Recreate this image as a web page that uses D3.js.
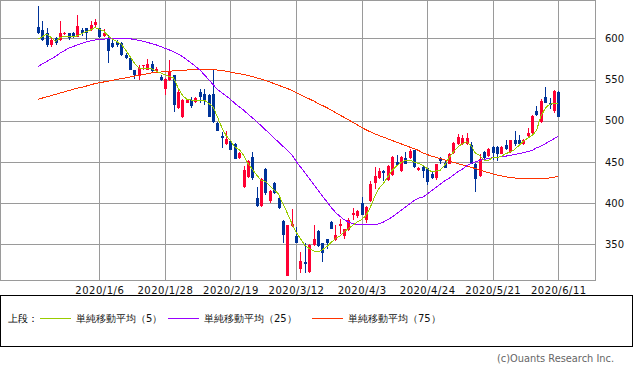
<!DOCTYPE html>
<html>
<head>
<meta charset="utf-8">
<script src="https://cdnjs.cloudflare.com/ajax/libs/d3/7.8.5/d3.min.js"></script>
<style>
  body { margin: 0; background: #fff; }
  svg { display: block; }
  .grid line { stroke: #9a9a9a; shape-rendering: crispEdges; }
  .candle { shape-rendering: crispEdges; }
  .ma { fill: none; stroke-width: 1; shape-rendering: crispEdges; }
  text { font-family: "DejaVu Sans", sans-serif; }
</style>
</head>
<body>
<svg width="633" height="377"></svg>
<script>
// trading days shown (2019/12/11 - 2020/6/11)
var dates = [
  "2019/12/11","2019/12/12","2019/12/13","2019/12/16","2019/12/17","2019/12/18","2019/12/19","2019/12/20",
  "2019/12/23","2019/12/24","2019/12/25","2019/12/26","2019/12/27","2019/12/30",
  "2020/1/6","2020/1/7","2020/1/8","2020/1/9","2020/1/10","2020/1/14","2020/1/15","2020/1/16","2020/1/17",
  "2020/1/20","2020/1/21","2020/1/22","2020/1/23","2020/1/24","2020/1/27","2020/1/28","2020/1/29","2020/1/30","2020/1/31",
  "2020/2/3","2020/2/4","2020/2/5","2020/2/6","2020/2/7","2020/2/10","2020/2/12","2020/2/13","2020/2/14",
  "2020/2/17","2020/2/18","2020/2/19","2020/2/20","2020/2/21","2020/2/25","2020/2/26","2020/2/27","2020/2/28",
  "2020/3/2","2020/3/3","2020/3/4","2020/3/5","2020/3/6","2020/3/9","2020/3/10","2020/3/11","2020/3/12","2020/3/13",
  "2020/3/16","2020/3/17","2020/3/18","2020/3/19","2020/3/23","2020/3/24","2020/3/25","2020/3/26","2020/3/27","2020/3/30","2020/3/31",
  "2020/4/1","2020/4/2","2020/4/3","2020/4/6","2020/4/7","2020/4/8","2020/4/9","2020/4/10","2020/4/13","2020/4/14",
  "2020/4/15","2020/4/16","2020/4/17","2020/4/20","2020/4/21","2020/4/22","2020/4/23","2020/4/24","2020/4/27","2020/4/28","2020/4/30",
  "2020/5/1","2020/5/7","2020/5/8","2020/5/11","2020/5/12","2020/5/13","2020/5/14","2020/5/15","2020/5/18","2020/5/19",
  "2020/5/20","2020/5/21","2020/5/22","2020/5/25","2020/5/26","2020/5/27","2020/5/28","2020/5/29",
  "2020/6/1","2020/6/2","2020/6/3","2020/6/4","2020/6/5","2020/6/8","2020/6/9","2020/6/10","2020/6/11"
];

var opens = [
  614,610,606,592,600,598,605,606,607,601,610,612,610,616,
  612,603,600,594,596,594,580,576,561,555,566,562,569,560,553,539,549,555,515,
  504,522,525,523,535,533,531,533,497,481,472,475,472,455,419,432,456,406,
  397,441,402,425,406,378,312,372,360,320,329,316,349,366,351,356,377,355,372,360,367,
  386,384,400,380,402,424,430,439,428,434,450,439,455,455,464,440,444,442,435,430,455,
  449,448,461,472,472,472,470,448,433,462,457,468,468,460,470,462,476,476,
  472,481,485,512,498,529,522,512,535
];
var highs = [
  639,621,612,600,602,621,608,607,608,628,612,613,621,624,
  613,611,604,598,598,595,582,578,562,568,568,575,572,565,555,552,574,556,537,
  526,526,529,529,539,539,532,562,498,486,488,477,473,462,445,452,462,420,
  430,443,416,426,407,379,374,393,371,341,351,350,374,367,352,357,378,373,381,369,382,
  394,392,407,396,427,444,443,440,446,457,458,457,462,466,465,444,445,443,438,448,456,
  452,461,474,484,483,485,474,449,460,463,467,469,469,469,476,477,488,483,
  478,491,507,518,526,541,527,537,536
];
var lows = [
  605,597,590,589,592,597,604,598,600,601,603,598,609,614,
  600,601,570,588,590,579,575,561,551,549,562,561,559,559,548,531,548,511,514,
  503,521,516,522,521,519,504,497,487,467,471,464,453,454,418,431,428,395,
  395,410,400,411,393,351,311,371,351,315,315,315,348,347,328,344,368,354,363,356,366,
  380,382,385,376,401,417,429,427,427,433,445,438,447,454,443,439,431,422,429,428,448,
  442,447,460,471,471,471,447,414,432,451,456,452,451,459,465,461,469,470,
  471,480,484,506,497,521,514,509,504
];
var closes = [
  607,598,592,598,594,607,607,600,601,615,606,606,616,620,
  602,606,584,589,592,580,576,562,555,564,568,569,560,563,549,551,559,519,535,
  525,525,518,528,529,525,505,498,488,479,478,465,454,461,440,451,430,397,
  429,412,415,412,394,361,373,375,352,330,326,349,356,348,340,352,369,361,375,368,379,
  388,391,386,395,423,433,439,436,445,456,446,456,448,463,444,443,439,426,430,447,451,
  443,460,473,480,479,479,448,429,454,455,466,461,460,468,466,476,472,472,
  476,485,506,507,524,522,519,536,505
];

var ma5 = [
  599,602,605,601,596,601,602,602,602,603,606,608,610,613,
  611,609,603,599,596,593,586,578,570,564,563.5,563.5,563,560,558,556,553.5,552,540,
  531,526,525,525,525,525,521,517,505,492,482,476,468,465,458,448,441,434,
  428,426,421,416,411,399,388,376,365,357,349,345,342,341,343,347,352,357,360,365,369,
  373,377,380,385,395,408,418,424,432,440,445,449,452,452,450,448,446,442,438,439,440,
  446,455,462,468,472,474.5,470,461,458,452,452,455,455,457,460,462,465,470,
  475,479,482,488,505,515,520,521,521
];
var ma25 = [
  565.6,569,572,575,578,582,585,588,590,592,594,595.5,597,598,
  599,599,599.5,599.5,600,600,600,599.5,598.5,597.5,596.5,595,593.5,592,590,588,586,583.5,581,
  578,574,570,566,561.5,556,550,544,538,534,530,526,521,517,513,508,503.5,499,
  494,489,484,479,474,469,464,459,451,444,437,430,423,416,409,402,395,389,384,380,377,
  375,374,373.5,373.5,373.5,373.5,375,377,380,383,387,391,395,399,403,406,407,411,415,419,423,
  427,430,434,438,441,445,448,450,452,453,454,455,455.5,456.5,457,458,459,460,
  461,462.5,464,467,469,472,475,478,481
];
var ma75 = [
  526,527.5,529,530.5,532,533.5,535,536.5,538,539.5,540.5,542,543.5,545,
  546,547,548,549,550,551,552,553,554,555,556,557,558,558.5,559,559.5,560,560.5,561,
  561.5,561.5,562,562,562,562,562,562,561.5,561,560,559,558,557,556,555,553.5,552,
  550.5,549,547,545,543,541,539,537,534,531.5,529,526.5,524,521,518.5,516,513,510,507,504,501,
  498,495,492,489,486.5,484,482,480,478,476,474,472,470,468,466,464,461,459,457,455.5,454,
  452.5,451,449.5,448,446.5,445,443.5,442,440,438.5,437,435.5,434,433,432,431,430.5,430,
  430,429.5,429.5,429.5,429.5,430,430.5,431.5,432.5
];

var tickLabels = ["2020/1/6","2020/1/28","2020/2/19","2020/3/12","2020/4/3","2020/4/24","2020/5/21","2020/6/11"];
var priceTicks = [350, 400, 450, 500, 550, 600];
var legendNames = ["単純移動平均（5）", "単純移動平均（25）", "単純移動平均（75）"];

var UP = "#ff0033", DOWN = "#003399";
var maColors = ["#99cc00", "#9900ff", "#ff3300"];

var svg = d3.select("svg");
var plotW = 595, plotH = 280;

var x = d3.scalePoint()
    .domain(dates)
    .range([38.1, 558.3]);
var y = d3.scaleLinear()
    .domain([350, 600])
    .range([244.3, 38.3]);

// grid
var grid = svg.append("g").attr("class", "grid");
grid.selectAll(".v").data(tickLabels).enter().append("line")
    .attr("x1", function(d) { return Math.round(x(d)) + 0.5; })
    .attr("x2", function(d) { return Math.round(x(d)) + 0.5; })
    .attr("y1", 0).attr("y2", plotH);
grid.selectAll(".h").data(priceTicks).enter().append("line")
    .attr("x1", 0).attr("x2", plotW)
    .attr("y1", function(d) { return Math.round(y(d)) + 0.5; })
    .attr("y2", function(d) { return Math.round(y(d)) + 0.5; });
svg.append("rect")
    .attr("x", 0.5).attr("y", 0.5)
    .attr("width", plotW).attr("height", plotH)
    .attr("fill", "none").attr("stroke", "#9a9a9a")
    .style("shape-rendering", "crispEdges");

// candles
var idx = d3.range(dates.length);
var candles = svg.append("g").selectAll("g").data(idx).enter().append("g")
    .attr("class", "candle")
    .attr("fill", function(i) { return closes[i] >= opens[i] ? UP : DOWN; })
    .attr("stroke", function(i) { return closes[i] >= opens[i] ? UP : DOWN; });

candles.append("line")
    .attr("x1", function(i) { return Math.round(x(dates[i])) + 0.5; })
    .attr("x2", function(i) { return Math.round(x(dates[i])) + 0.5; })
    .attr("y1", function(i) { return y(highs[i]); })
    .attr("y2", function(i) { return y(lows[i]); });

candles.append("rect")
    .attr("stroke", "none")
    .attr("x", function(i) { return Math.round(x(dates[i])) - 1; })
    .attr("width", 3)
    .attr("y", function(i) { return y(Math.max(opens[i], closes[i])); })
    .attr("height", function(i) { return Math.max(1, Math.abs(y(opens[i]) - y(closes[i]))); });

// moving averages
[ma75, ma25, ma5].forEach(function(series, k) {
    var line = d3.line()
        .x(function(d, i) { return x(dates[i]); })
        .y(function(d) { return y(d); });
    svg.append("path")
        .attr("class", "ma")
        .attr("stroke", maColors[2 - k])
        .attr("d", line(series));
});

// axes labels
var xAxis = d3.axisBottom(x).tickValues(tickLabels).tickSize(0).tickPadding(7);
var gx = svg.append("g").attr("transform", "translate(0," + plotH + ")").call(xAxis);
gx.select(".domain").remove();
gx.selectAll("text")
    .attr("font-family", "DejaVu Sans")
    .attr("font-size", 10)
    .attr("letter-spacing", "0.5px")
    .attr("fill", "#111");

var yAxis = d3.axisRight(y).tickValues(priceTicks).tickSize(0).tickPadding(10);
var gy = svg.append("g").attr("transform", "translate(" + plotW + ",0)").call(yAxis);
gy.select(".domain").remove();
gy.selectAll("text")
    .attr("font-family", "DejaVu Sans")
    .attr("font-size", 10)
    .attr("fill", "#111");

// legend
svg.append("rect")
    .attr("x", 0.5).attr("y", 295.5)
    .attr("width", 632).attr("height", 51)
    .attr("fill", "none").attr("stroke", "#000")
    .style("shape-rendering", "crispEdges");

var legY = 318.5;
svg.append("text")
    .attr("x", 8).attr("y", legY).attr("dy", "0.35em")
    .attr("font-family", "Noto Sans CJK JP").attr("font-size", 10)
    .text("上段：");

var legX = [40, 168, 312];
legendNames.forEach(function(name, k) {
    svg.append("line")
        .attr("x1", legX[k]).attr("x2", legX[k] + 31)
        .attr("y1", legY).attr("y2", legY)
        .attr("stroke", maColors[k])
        .style("shape-rendering", "crispEdges");
    svg.append("text")
        .attr("x", legX[k] + 36).attr("y", legY).attr("dy", "0.35em")
        .attr("font-family", "Noto Sans CJK JP").attr("font-size", 10)
        .attr("fill", "#111")
        .text(name);
});

svg.append("text")
    .attr("x", 497).attr("y", 358).attr("dy", "0.35em")
    .attr("font-family", "DejaVu Sans").attr("font-size", 10.5)
    .attr("textLength", 117).attr("lengthAdjust", "spacingAndGlyphs")
    .attr("fill", "#666")
    .text("(c)Ouants Research Inc.");
</script>
</body>
</html>
